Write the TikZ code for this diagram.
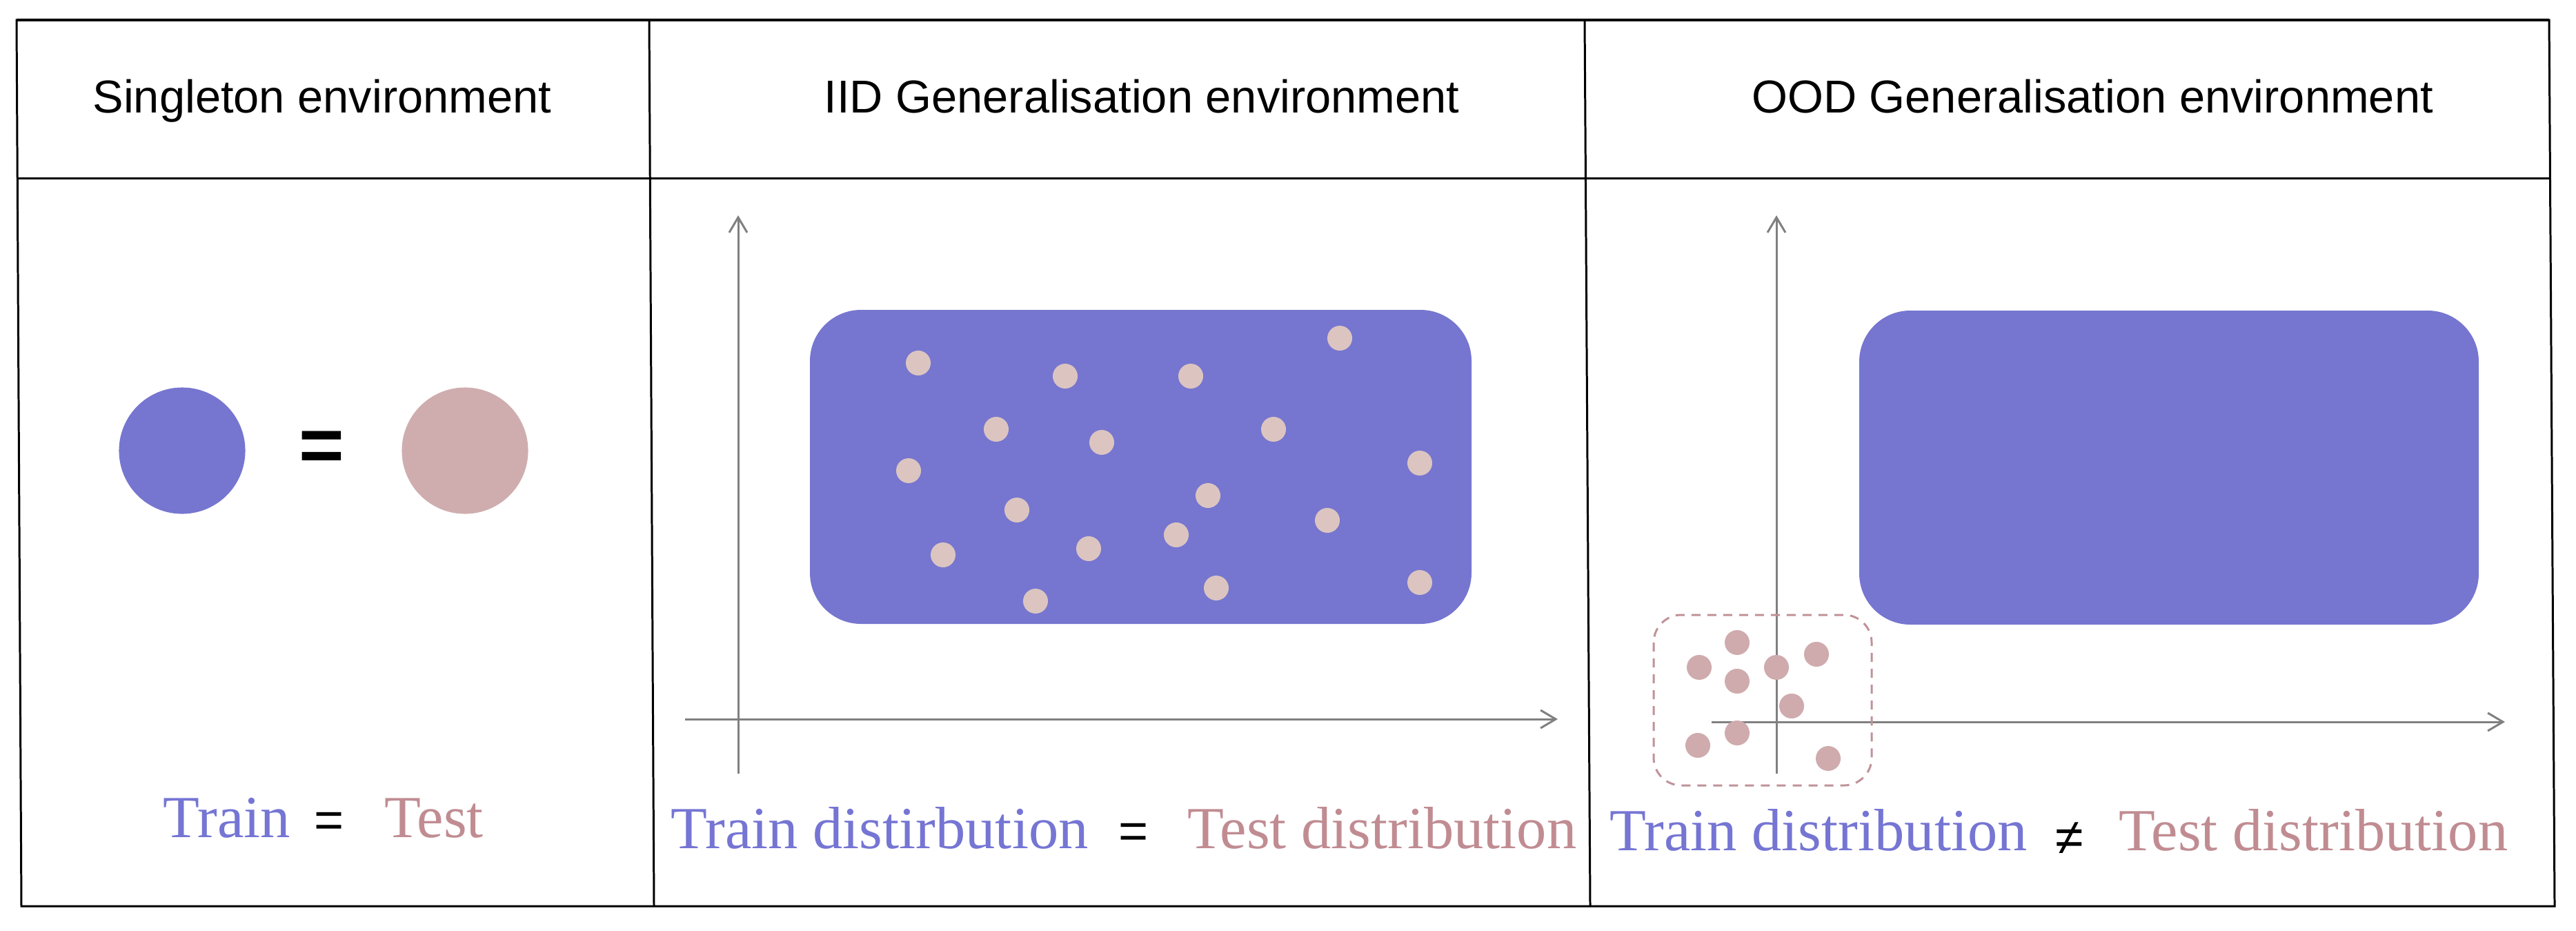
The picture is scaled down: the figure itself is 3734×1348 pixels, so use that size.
\documentclass[tikz,border=0pt]{standalone}
\usepackage{fontspec}
\setmainfont{Liberation Serif}
\newfontfamily\sansf{Liberation Sans}
\usetikzlibrary{arrows.meta}
\definecolor{trainfill}{RGB}{118,118,208}
\definecolor{testfill}{RGB}{207,173,175}
\definecolor{iiddot}{RGB}{220,197,192}
\definecolor{ooddot}{RGB}{207,171,173}
\definecolor{traintext}{RGB}{117,117,212}
\definecolor{testtext}{RGB}{192,140,146}
\definecolor{axisgray}{RGB}{128,128,128}
\definecolor{dashpink}{RGB}{192,146,152}
\begin{document}
\begin{tikzpicture}[x=0.01cm,y=-0.01cm,
  frameline/.style={line width=0.85pt, black},
  axisline/.style={line width=0.85pt, axisgray, -{Straight Barb[length=2.2mm,width=2.6mm]}},
  hdr/.style={font=\sansf\fontsize{19pt}{23pt}\selectfont, inner sep=0, anchor=base},
  lbl/.style={font=\fontsize{24.6pt}{29pt}\selectfont, inner sep=0, anchor=base west},
  eqs/.style={font=\sansf\fontsize{21pt}{25pt}\selectfont, inner sep=0, anchor=base},
  ball/.style={circle, inner sep=0, minimum size=1.83cm},
  region/.style={rounded corners=0.74cm, fill=trainfill}
]
\useasboundingbox[fill=white] (0,0) rectangle (3734,1348);

% frame
\coordinate (tl) at (24,29);
\coordinate (tr) at (3695,29);
\coordinate (bl) at (31,1313);
\coordinate (br) at (3703,1313);
\draw[frameline] (tl) -- (tr) -- (br) -- (bl) -- cycle;
\draw[frameline, line width=1pt] (tl) -- (tr);
\coordinate (hl) at (24,258);
\coordinate (hr) at (3697,258);
\draw[frameline] (hl) -- (hr);
\coordinate (s1t) at (941,29);
\coordinate (s1b) at (948,1313);
\coordinate (s2t) at (2297,29);
\coordinate (s2b) at (2305,1313);
\draw[frameline] (s1t) -- (s1b);
\draw[frameline] (s2t) -- (s2b);

% headers
\node[hdr] (h1) at (467,163) {Singleton environment};
\node[hdr] (h2) at (1655,163) {IID Generalisation environment};
\node[hdr] (h3) at (3033,163) {OOD Generalisation environment};

% column 1
\node[ball, fill=trainfill] (trainball) at (264,653) {};
\node[ball, fill=testfill] (testball) at (674,653) {};
\node[font=\sansf\bfseries\fontsize{32pt}{36pt}\selectfont, inner sep=0] (bigeq) at (466,654) {=};
\node[lbl, text=traintext] (train1) at (236,1213) {Train};
\node[eqs] (eq1) at (477,1213) {=};
\node[lbl, text=testtext] (test1) at (557,1213) {Test};

% column 2
\coordinate (a2o) at (1070,1121);
\coordinate (a2y) at (1070,312);
\coordinate (a2s) at (993,1042);
\coordinate (a2x) at (2258,1042);
\draw[axisline] (a2o) -- (a2y);
\draw[axisline] (a2s) -- (a2x);
\fill[region] (1174,449) rectangle (2133,904);
\foreach \px/\py in {1331/526,1544/545,1726/545,1942/490,1444/622,1597/641,1846/622,1317/682,2058/671,1751/718,1474/739,1924/754,1705/775,1367/804,1578/795,1763/852,2058/844,1501/871}
  \fill[iiddot] (\px,\py) circle (0.18cm);
\node[lbl, text=traintext] (train2) at (972,1229) {Train distirbution};
\node[eqs] (eq2) at (1643,1229) {=};
\node[lbl, text=testtext] (test2) at (1721,1229) {Test distribution};

% column 3
\coordinate (a3o) at (2575,1121);
\coordinate (a3y) at (2575,312);
\coordinate (a3s) at (2481,1046);
\coordinate (a3x) at (3631,1046);
\draw[axisline] (a3o) -- (a3y);
\draw[axisline] (a3s) -- (a3x);
\fill[region] (2695,450) rectangle (3593,905);
\draw[dashpink, line width=0.85pt, dash pattern=on 0.13cm off 0.1cm, rounded corners=0.4cm] (2397,891) rectangle (2713,1138);
\foreach \px/\py in {2518/931,2463/967,2518/987,2575/967,2633/948,2597/1023,2518/1062,2461/1080,2650/1099}
  \fill[ooddot] (\px,\py) circle (0.18cm);
\node[lbl, text=traintext] (train3) at (2333,1232) {Train distribution};
\node[font=\sansf\fontsize{21pt}{25pt}\selectfont, inner sep=0] (neq3) at (3000,1215) {≠};
\node[lbl, text=testtext] (test3) at (3071,1232) {Test distribution};
\end{tikzpicture}
\end{document}
